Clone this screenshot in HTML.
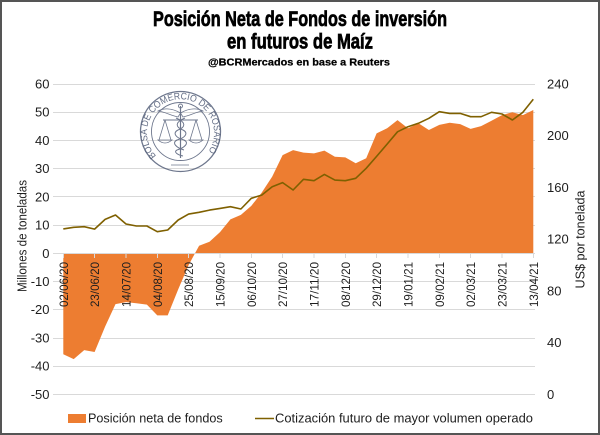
<!DOCTYPE html>
<html><head><meta charset="utf-8"><style>
html,body{margin:0;padding:0;background:#fff;}
svg{display:block;}
text{font-family:"Liberation Sans",sans-serif;fill:#1e1e1e;}
</style></head><body>
<svg width="600" height="435" viewBox="0 0 600 435" xmlns="http://www.w3.org/2000/svg">
<rect x="0" y="0" width="600" height="435" fill="#fff"/>
<rect x="1" y="1" width="598" height="433" fill="none" stroke="#555" stroke-width="2"/>

<!-- Title -->
<text x="300" y="26" text-anchor="middle" font-size="21" font-weight="bold" textLength="294" lengthAdjust="spacingAndGlyphs" style="fill:#000;stroke:#000;stroke-width:0.7">Posición Neta de Fondos de inversión</text>
<text x="300" y="48.3" text-anchor="middle" font-size="21" font-weight="bold" textLength="146" lengthAdjust="spacingAndGlyphs" style="fill:#000;stroke:#000;stroke-width:0.7">en futuros de Maíz</text>
<text x="299" y="65.7" text-anchor="middle" font-size="10.5" font-weight="bold" textLength="182" lengthAdjust="spacingAndGlyphs" style="fill:#000;stroke:#000;stroke-width:0.25">@BCRMercados  en base a Reuters</text>

<!-- gridlines -->
<g stroke="#d9d9d9" stroke-width="1">
<line x1="53" x2="535" y1="84.5" y2="84.5"/>
<line x1="53" x2="535" y1="112.5" y2="112.5"/>
<line x1="53" x2="535" y1="140.5" y2="140.5"/>
<line x1="53" x2="535" y1="168.5" y2="168.5"/>
<line x1="53" x2="535" y1="196.5" y2="196.5"/>
<line x1="53" x2="535" y1="225.5" y2="225.5"/>
<line x1="53" x2="535" y1="281.5" y2="281.5"/>
<line x1="53" x2="535" y1="309.5" y2="309.5"/>
<line x1="53" x2="535" y1="338.5" y2="338.5"/>
<line x1="53" x2="535" y1="366.5" y2="366.5"/>
<line x1="53" x2="535" y1="394.5" y2="394.5"/>
</g>

<!-- logo watermark -->
<g fill="none" stroke="#55607a" opacity="0.85">
<circle cx="180.5" cy="131.5" r="40" stroke-width="1.3"/>
<circle cx="180.5" cy="131.5" r="29" stroke-width="0.9"/>
<line x1="180.5" y1="106" x2="180.5" y2="158" stroke-width="1.2"/>
<circle cx="180.5" cy="106" r="2" stroke-width="0.9"/>
<path d="M180.5 113 C172 108 164 108 158 111 C165 112 170 115 178 117 Z" stroke-width="0.8"/>
<path d="M180.5 113 C189 108 197 108 203 111 C196 112 191 115 183 117 Z" stroke-width="0.8"/>
<line x1="163" y1="120" x2="198" y2="120" stroke-width="1"/>
<path d="M165 120 L159 140 M165 120 L171 140 M158 140 Q165 146 172 140 Z" stroke-width="0.8"/>
<path d="M196 120 L190 140 M196 120 L202 140 M189 140 Q196 146 203 140 Z" stroke-width="0.8"/>
<path d="M176 118 C186 122 186 127 178 130 C172 133 176 138 184 140 C190 143 184 148 177 150 C173 152 178 155 183 156" stroke-width="1"/>
<path d="M185 118 C175 122 175 127 183 130 C189 133 185 138 177 140 C171 143 177 148 184 150" stroke-width="1"/>
<line x1="171" y1="165" x2="189" y2="165" stroke-width="0.8"/>
</g>
<defs>
<path id="ring" d="M156.2 155.8 A33.5 33.5 0 1 1 204.8 155.8"/>
</defs>
<text font-size="9.5" style="fill:#55607a" opacity="0.9"><textPath href="#ring" textLength="150" lengthAdjust="spacingAndGlyphs">BOLSA DE COMERCIO DE ROSARIO</textPath></text>

<!-- area series -->
<polygon fill="#ED7D31" points="63.3,253.3 63.3,354.3 73.7,359.1 84.2,350.1 94.6,352.0 105.1,326.6 115.5,304.1 126.0,302.1 136.4,303.2 146.9,304.6 157.3,315.4 167.7,315.4 178.2,289.4 188.6,265.1 195.0,253.3 199.1,245.7 209.5,241.7 220.0,232.1 230.4,219.4 240.9,214.9 251.3,205.9 261.7,192.6 272.2,176.6 282.6,155.1 293.1,150.1 303.5,152.6 314.0,153.4 324.4,150.6 334.9,156.8 345.3,157.4 355.7,163.3 366.2,158.2 376.6,133.4 387.1,128.3 397.5,120.1 408.0,128.3 418.4,123.3 428.9,130.0 439.3,124.9 449.7,122.7 460.2,124.1 470.6,128.9 481.1,126.1 491.5,120.7 502.0,115.1 512.4,112.2 522.9,115.1 533.3,110.0 533.3,253.3"/>

<!-- zero axis + ticks -->
<g stroke="#d9d9d9" stroke-width="1">
<line x1="53" x2="535" y1="253.5" y2="253.5"/>
<path d="M63.5 253v5M94.5 253v5M126 253v5M157.5 253v5M188.5 253v5M220 253v5M251.5 253v5M282.5 253v5M314 253v5M345.5 253v5M376.5 253v5M408 253v5M439.5 253v5M470.5 253v5M502 253v5M533.5 253v5"/>
</g>

<!-- line series -->
<polyline fill="none" stroke="#7F6000" stroke-width="1.6" stroke-linejoin="round" points="63.3,228.9 73.7,227.3 84.2,226.7 94.6,229.1 105.1,219.4 115.5,215.0 126.0,224.0 136.4,226.0 146.9,226.0 157.3,231.7 167.7,230.0 178.2,220.0 188.6,214.1 199.1,212.3 209.5,210.1 220.0,208.4 230.4,206.7 240.9,209.0 251.3,198.3 261.7,195.1 272.2,186.7 282.6,182.6 293.1,190.0 303.5,179.3 314.0,180.7 324.4,174.4 334.9,180.1 345.3,180.7 355.7,178.3 366.2,168.3 376.6,156.4 387.1,144.1 397.5,131.8 408.0,126.7 418.4,123.3 428.9,118.3 439.3,111.7 449.7,113.4 460.2,113.4 470.6,116.7 481.1,116.7 491.5,112.3 502.0,114.0 512.4,120.0 522.9,112.3 533.3,99.3"/>

<!-- left axis labels -->
<g font-size="13" text-anchor="end">
<text x="49.5" y="88.5">60</text>
<text x="49.5" y="116.7">50</text>
<text x="49.5" y="145">40</text>
<text x="49.5" y="173.2">30</text>
<text x="49.5" y="201.4">20</text>
<text x="49.5" y="229.6">10</text>
<text x="49.5" y="257.8">0</text>
<text x="49.5" y="286">-10</text>
<text x="49.5" y="314.2">-20</text>
<text x="49.5" y="342.4">-30</text>
<text x="49.5" y="370.6">-40</text>
<text x="49.5" y="398.8">-50</text>
</g>

<!-- right axis labels -->
<g font-size="13" text-anchor="start">
<text x="547" y="88.5">240</text>
<text x="547" y="140.2">200</text>
<text x="547" y="191.9">160</text>
<text x="547" y="243.6">120</text>
<text x="547" y="295.4">80</text>
<text x="547" y="347.1">40</text>
<text x="547" y="398.8">0</text>
</g>

<!-- axis titles -->
<text transform="translate(26.5,236) rotate(-90)" text-anchor="middle" font-size="13" textLength="112" lengthAdjust="spacingAndGlyphs">Millones de toneladas</text>
<text transform="translate(584.5,239.5) rotate(-90)" text-anchor="middle" font-size="13" textLength="98" lengthAdjust="spacingAndGlyphs">US$ por tonelada</text>

<!-- x labels -->
<g font-size="12" text-anchor="end">
<text transform="translate(68,262) rotate(-90)" textLength="45" lengthAdjust="spacingAndGlyphs">02/06/20</text>
<text transform="translate(99.1,262) rotate(-90)" textLength="45" lengthAdjust="spacingAndGlyphs">23/06/20</text>
<text transform="translate(130.5,262) rotate(-90)" textLength="45" lengthAdjust="spacingAndGlyphs">14/07/20</text>
<text transform="translate(161.8,262) rotate(-90)" textLength="45" lengthAdjust="spacingAndGlyphs">04/08/20</text>
<text transform="translate(193.1,262) rotate(-90)" textLength="45" lengthAdjust="spacingAndGlyphs">25/08/20</text>
<text transform="translate(224.5,262) rotate(-90)" textLength="45" lengthAdjust="spacingAndGlyphs">15/09/20</text>
<text transform="translate(255.8,262) rotate(-90)" textLength="45" lengthAdjust="spacingAndGlyphs">06/10/20</text>
<text transform="translate(287.1,262) rotate(-90)" textLength="45" lengthAdjust="spacingAndGlyphs">27/10/20</text>
<text transform="translate(318.5,262) rotate(-90)" textLength="45" lengthAdjust="spacingAndGlyphs">17/11/20</text>
<text transform="translate(349.8,262) rotate(-90)" textLength="45" lengthAdjust="spacingAndGlyphs">08/12/20</text>
<text transform="translate(381.1,262) rotate(-90)" textLength="45" lengthAdjust="spacingAndGlyphs">29/12/20</text>
<text transform="translate(412.5,262) rotate(-90)" textLength="45" lengthAdjust="spacingAndGlyphs">19/01/21</text>
<text transform="translate(443.8,262) rotate(-90)" textLength="45" lengthAdjust="spacingAndGlyphs">09/02/21</text>
<text transform="translate(475.1,262) rotate(-90)" textLength="45" lengthAdjust="spacingAndGlyphs">02/03/21</text>
<text transform="translate(506.5,262) rotate(-90)" textLength="45" lengthAdjust="spacingAndGlyphs">23/03/21</text>
<text transform="translate(537.8,262) rotate(-90)" textLength="45" lengthAdjust="spacingAndGlyphs">13/04/21</text>
</g>

<!-- legend -->
<rect x="68" y="414" width="18" height="9" fill="#ED7D31"/>
<text x="88" y="422.5" font-size="13" textLength="134.7" lengthAdjust="spacingAndGlyphs">Posición neta de fondos</text>
<line x1="255" y1="418.5" x2="274" y2="418.5" stroke="#7F6000" stroke-width="1.6"/>
<text x="275" y="422.5" font-size="13" textLength="258" lengthAdjust="spacingAndGlyphs">Cotización futuro de mayor volumen operado</text>
</svg>
</body></html>
